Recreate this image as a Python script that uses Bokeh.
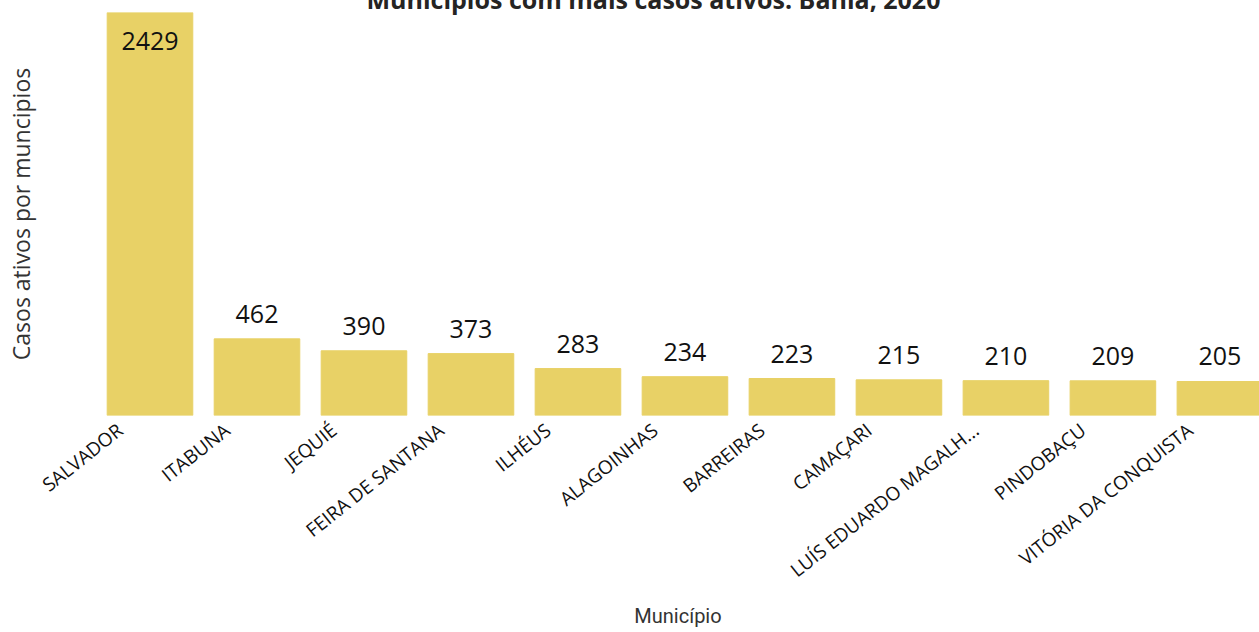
from bokeh.plotting import figure
from bokeh.models import ColumnDataSource, FixedTicker, Range1d
from bokeh.embed import file_html
from bokeh.resources import INLINE
from bokeh.core.properties import value

municipios = ["SALVADOR", "ITABUNA", "JEQUIÉ", "FEIRA DE SANTANA", "ILHÉUS",
              "ALAGOINHAS", "BARREIRAS", "CAMAÇARI", "LUÍS EDUARDO MAGALH...",
              "PINDOBAÇU", "VITÓRIA DA CONQUISTA"]
casos = [2429, 462, 390, 373, 283, 234, 223, 215, 210, 209, 205]

BAR = "#E8D166"
xs = list(range(len(municipios)))
top = max(casos)
LABEL_SHIFT = 0.28  # tick labels sit a little left of bar centres

src = ColumnDataSource(dict(x=xs, y=casos, name=municipios, lab=[str(v) for v in casos]))
inside = ColumnDataSource(dict(x=[x for x, v in zip(xs, casos) if v == top],
                               y=[v for v in casos if v == top],
                               lab=[str(v) for v in casos if v == top]))
outside = ColumnDataSource(dict(x=[x for x, v in zip(xs, casos) if v != top],
                                y=[v for v in casos if v != top],
                                lab=[str(v) for v in casos if v != top]))

p = figure(width=1259, height=666, output_backend="svg", toolbar_location=None,
           x_range=Range1d(-0.5, 10.37), y_range=Range1d(0, top),
           min_border_left=96, min_border_right=0, min_border_top=40, min_border_bottom=223,
           margin=(-28, 0, 0, 0),
           title="Municípios com mais casos ativos. Bahia, 2020")
p.outline_line_color = None
p.grid.visible = False
p.background_fill_color = "white"
p.border_fill_color = "white"

p.title.align = "left"
p.title.offset = 270
p.title.standoff = -7
p.title.text_font = "Open Sans"
p.title.text_font_style = "bold"
p.title.text_font_size = "25px"
p.title.text_color = "#252423"

p.vbar(x="x", top="y", width=0.8, bottom=0, source=src, color=BAR)

p.text(x="x", y="y", text="lab", source=outside, text_align="center", text_baseline="bottom",
       y_offset=-16, text_font=value("Open Sans"), text_font_size="25px", text_color="#111111")
p.text(x="x", y="y", text="lab", source=inside, text_align="center", text_baseline="top",
       y_offset=19, text_font=value("Open Sans"), text_font_size="25px", text_color="#111111")

ticks = [round(i - LABEL_SHIFT, 2) for i in xs]
p.xaxis.ticker = FixedTicker(ticks=ticks)
p.xaxis.major_label_overrides = {t: n for t, n in zip(ticks, municipios)}
p.xaxis.major_label_orientation = 0.67
p.xaxis.major_label_text_font = "Open Sans"
p.xaxis.major_label_text_font_size = "19px"
p.xaxis.major_label_text_color = "#111111"
p.xaxis.major_label_standoff = 6
p.xaxis.axis_line_color = None
p.xaxis.major_tick_line_color = None
p.xaxis.minor_tick_line_color = None
p.xaxis.axis_label = "Município"
p.xaxis.axis_label_text_font = "Roboto"
p.xaxis.axis_label_text_font_style = "normal"
p.xaxis.axis_label_text_font_size = "20px"
p.xaxis.axis_label_text_color = "#333333"
p.xaxis.axis_label_standoff = 8

p.yaxis.axis_label = "Casos ativos por muncipios"
p.yaxis.ticker = FixedTicker(ticks=[])
p.yaxis.major_tick_line_color = None
p.yaxis.minor_tick_line_color = None
p.yaxis.axis_line_color = None
p.yaxis.axis_label_text_font = "Open Sans"
p.yaxis.axis_label_text_font_style = "normal"
p.yaxis.axis_label_text_font_size = "23px"
p.yaxis.axis_label_text_color = "#333333"
p.yaxis.axis_label_standoff = 60

html = file_html(p, INLINE)
html = html.replace("</head>", "<style>html,body{overflow:hidden}</style></head>")
open("out.html", "w").write(html)
